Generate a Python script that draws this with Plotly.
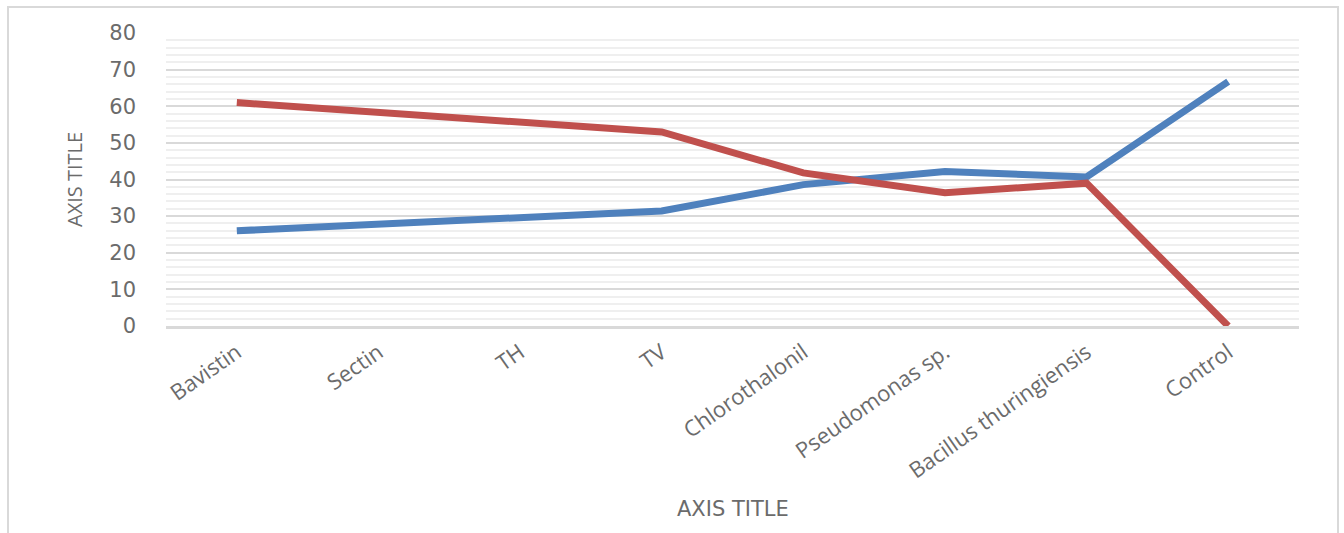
import plotly.graph_objects as go

categories = ["Bavistin", "Sectin", "TH", "TV", "Chlorothalonil",
              "Pseudomonas sp.", "Bacillus thuringiensis", "Control"]
series_blue = [26.0, 27.7, 29.6, 31.4, 38.6, 42.2, 40.7, 66.7]
series_red = [61.0, 58.3, 55.6, 53.0, 41.8, 36.4, 39.0, 0.0]
y_ticks = [0, 10, 20, 30, 40, 50, 60, 70, 80]

W, H = 1344, 533
L, R, T, B = 166, 45, 33, 207
pw, ph = W - L - R, H - T - B
TEXT_GRAY = "#6b6b6b"

def px_x(x):
    return (x - L) / pw

def px_y(y):
    return (H - B - y) / ph

fig = go.Figure()
fig.add_trace(go.Scatter(x=categories, y=series_blue, mode="lines",
                         line=dict(color="#4F81BD", width=7), showlegend=False))
fig.add_trace(go.Scatter(x=categories, y=series_red, mode="lines",
                         line=dict(color="#C0504D", width=7), showlegend=False))

fig.update_layout(
    width=W, height=H,
    margin=dict(l=L, r=R, t=T, b=B),
    paper_bgcolor="white", plot_bgcolor="white",
    xaxis=dict(
        type="category", range=[-0.5, 7.5],
        tickangle=-35,
        tickfont=dict(family="Open Sans", size=22, color=TEXT_GRAY),
        showgrid=False, showline=True, linecolor="#d9d9d9", linewidth=3,
        ticks="", fixedrange=True, ticklabelstandoff=2,
    ),
    yaxis=dict(
        range=[0, 80], tickvals=y_ticks,
        tickfont=dict(family="DejaVu Sans", size=21, color=TEXT_GRAY),
        gridcolor="#d9d9d9", gridwidth=2,
        minor=dict(dtick=2, showgrid=True, gridcolor="#efefef", gridwidth=1.5),
        zeroline=False, showline=False, ticks="",
        ticklabelstandoff=29,
    ),
    annotations=[
        dict(text="AXIS TITLE", xref="paper", yref="paper",
             x=px_x(74), y=px_y(179), textangle=-90, showarrow=False,
             font=dict(family="Open Sans", size=20, color=TEXT_GRAY),
             xanchor="center", yanchor="middle"),
        dict(text="AXIS TITLE", xref="paper", yref="paper",
             x=0.5, y=px_y(509), showarrow=False,
             font=dict(family="DejaVu Sans", size=21, color=TEXT_GRAY),
             xanchor="center", yanchor="middle"),
    ],
    shapes=[
        dict(type="rect", xref="paper", yref="paper",
             x0=px_x(8), x1=px_x(1338), y0=px_y(545), y1=px_y(7),
             line=dict(color="#d9d9d9", width=2), layer="below"),
    ],
)

fig.write_html("out.html")
